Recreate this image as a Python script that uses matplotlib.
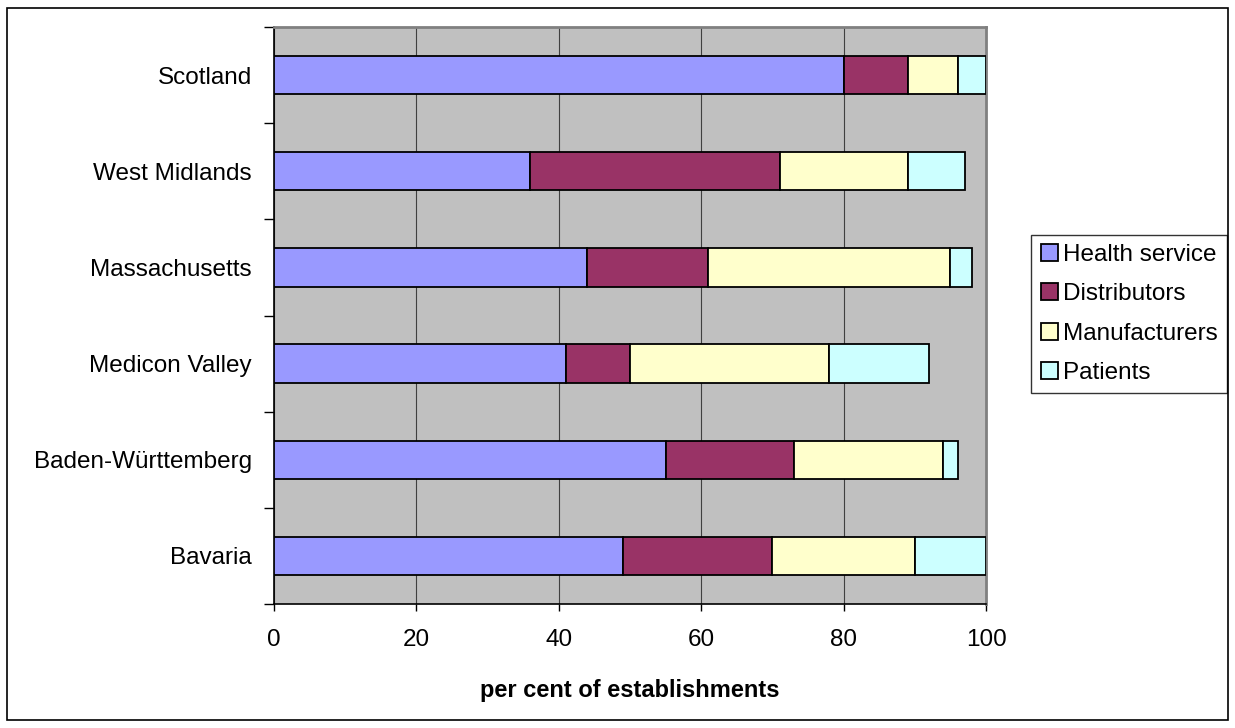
import matplotlib.pyplot as plt
from matplotlib.patches import Rectangle

plt.rcParams['font.family'] = ['Liberation Sans', 'DejaVu Sans']

# regions listed bottom to top
regions = ['Bavaria', 'Baden-Württemberg', 'Medicon Valley',
           'Massachusetts', 'West Midlands', 'Scotland']
health = [49, 55, 41, 44, 36, 80]
distributors = [21, 18, 9, 17, 35, 9]
manufacturers = [20, 21, 28, 34, 18, 7]
patients = [10, 2, 14, 3, 8, 4]

series = ['Health service', 'Distributors', 'Manufacturers', 'Patients']
colors = ['#9999FF', '#993366', '#FFFFCC', '#CCFFFF']
x_ticks = [0, 20, 40, 60, 80, 100]


def main():
    fig = plt.figure(figsize=(12.35, 7.28), dpi=100)
    ax = fig.add_axes([0.2219, 0.1703, 0.5765, 0.7926])
    ax.set_facecolor('#C0C0C0')

    # outer chart frame
    fig.patches.append(Rectangle((7 / 1235, 8 / 728), 1221 / 1235, 712 / 728,
                                 transform=fig.transFigure, fill=False,
                                 edgecolor='black', linewidth=1.2))

    ypos = list(range(len(regions)))
    left = [0] * len(regions)
    for name, vals, col in zip(series, [health, distributors, manufacturers, patients], colors):
        ax.barh(ypos, vals, left=left, height=0.4, color=col,
                edgecolor='black', linewidth=1.3, label=name, zorder=3)
        left = [a + b for a, b in zip(left, vals)]

    ax.set_xlim(0, 100)
    ax.set_ylim(-0.5, len(regions) - 0.5)

    ax.set_xticks(x_ticks)
    ax.set_xticklabels([str(t) for t in x_ticks], fontsize=17.5)
    ax.tick_params(axis='x', direction='out', length=5, width=1, pad=13)
    ax.xaxis.grid(True, color='#404040', linewidth=0.8, zorder=1)

    # category boundaries get ticks, centres get labels
    ax.set_yticks([y - 0.5 for y in range(len(regions) + 1)])
    ax.set_yticklabels([])
    ax.set_yticks(ypos, minor=True)
    ax.set_yticklabels(regions, minor=True, fontsize=17.5)
    ax.tick_params(axis='y', which='major', direction='out', length=7, width=1)
    ax.tick_params(axis='y', which='minor', length=0, pad=16)

    for side in ['left', 'bottom']:
        ax.spines[side].set_color('black')
        ax.spines[side].set_linewidth(1.2)
    for side in ['top', 'right']:
        ax.spines[side].set_color('#808080')
        ax.spines[side].set_linewidth(2)

    ax.set_xlabel('per cent of establishments', fontsize=17,
                  fontweight='bold', labelpad=20)

    leg = ax.legend(loc='center left', bbox_to_anchor=(1031 / 1235, 1 - 314 / 728),
                    bbox_transform=fig.transFigure, fontsize=17.5, frameon=True,
                    fancybox=False, handlelength=0.7, handleheight=0.7,
                    handletextpad=0.2, labelspacing=0.7, borderpad=0.4,
                    borderaxespad=0)
    leg.get_frame().set_edgecolor('black')
    leg.get_frame().set_linewidth(1)

    fig.savefig('out.png', dpi=100, facecolor='white')


if __name__ == '__main__':
    main()
